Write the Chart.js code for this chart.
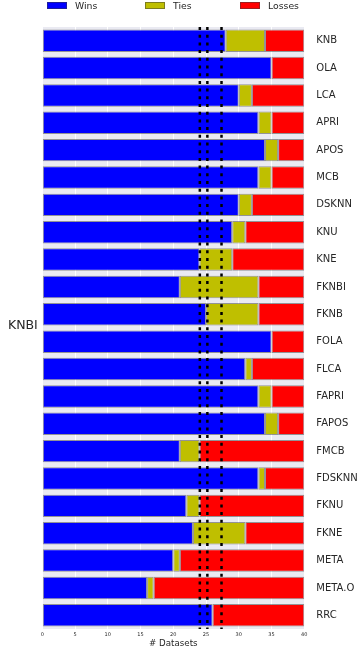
<!DOCTYPE html>
<html>
<head>
<meta charset="utf-8">
<script src="https://cdn.jsdelivr.net/npm/chart.js@4"></script>
<style>
  body { margin: 0; background: #fff; font-family: "DejaVu Sans", sans-serif; }
  #wrap { position: relative; width: 360px; height: 664px; }
  #legend { position: absolute; top: 0; left: 0; width: 360px; height: 14px; }
  .item { position: absolute; top: 0; font-size: 9.3px; color: #262626; line-height: 11px; }
  .box { position: absolute; top: 2px; width: 20px; height: 7px; box-sizing: border-box; border: 1px solid rgba(60,60,60,0.5); }
  .lbl { position: absolute; top: 0; white-space: nowrap; }
</style>
</head>
<body>
<div id="wrap">
  <canvas id="resultsChart" width="360" height="664"></canvas>
  <div id="legend"></div>
</div>
<script>
var categories = ['KNB', 'OLA', 'LCA', 'APRI', 'APOS', 'MCB', 'DSKNN', 'KNU', 'KNE', 'FKNBI', 'FKNB',
    'FOLA', 'FLCA', 'FAPRI', 'FAPOS', 'FMCB', 'FDSKNN', 'FKNU', 'FKNE', 'META', 'META.O', 'RRC'];
var wins   = [28, 35, 30, 33, 34, 33, 30, 29, 24, 21, 25, 35, 31, 33, 34, 21, 33, 22, 23, 20, 16, 26];
var ties   = [6, 0, 2, 2, 2, 2, 2, 2, 5, 12, 8, 0, 1, 2, 2, 3, 1, 2, 8, 1, 1, 0];
var losses = [6, 5, 8, 5, 4, 5, 8, 9, 11, 7, 7, 5, 8, 5, 4, 16, 6, 16, 9, 19, 23, 14];
// significance thresholds (dotted lines)
var thresholds = [24.05, 25.2, 27.36];
var seriesNames = ['Wins', 'Ties', 'Losses'];
var seriesColors = ['#0000ff', '#bfbf00', '#ff0000'];
var legendX = [47, 145, 240];

document.addEventListener('DOMContentLoaded', function () {
    // Legend
    var legend = document.getElementById('legend');
    seriesNames.forEach(function (name, i) {
        var item = document.createElement('div');
        item.className = 'item';
        item.style.left = legendX[i] + 'px';
        item.innerHTML = '<div class="box" style="left:0;background:' + seriesColors[i] + '"></div>' +
            '<div class="lbl" style="left:28px">' + name + '</div>';
        legend.appendChild(item);
    });

    var bgPlugin = {
        id: 'bg',
        beforeDraw: function (chart) {
            var a = chart.chartArea, ctx = chart.ctx;
            ctx.save();
            ctx.fillStyle = '#eaeaf2';
            ctx.fillRect(a.left, a.top, a.right - a.left, a.bottom - a.top);
            ctx.restore();
        }
    };
    var linesPlugin = {
        id: 'thresholds',
        afterDatasetsDraw: function (chart) {
            var a = chart.chartArea, ctx = chart.ctx, xs = chart.scales.x;
            ctx.save();
            ctx.strokeStyle = '#000';
            ctx.lineWidth = 2.5;
            ctx.setLineDash([3, 4.7]);
            thresholds.forEach(function (v) {
                var x = xs.getPixelForValue(v);
                ctx.beginPath();
                ctx.moveTo(x, a.top);
                ctx.lineTo(x, a.bottom);
                ctx.stroke();
            });
            ctx.restore();
        },
        afterDraw: function (chart) {
            var a = chart.chartArea, ctx = chart.ctx;
            ctx.save();
            ctx.font = '12.5px "DejaVu Sans"';
            ctx.fillStyle = '#262626';
            ctx.textAlign = 'left';
            ctx.textBaseline = 'middle';
            ctx.fillText('KNBI', 8, (a.top + a.bottom) / 2 - 2);
            ctx.restore();
        }
    };

    var ctx = document.getElementById('resultsChart').getContext('2d');
    new Chart(ctx, {
        type: 'bar',
        data: {
            labels: categories,
            datasets: [wins, ties, losses].map(function (vals, i) {
                return {
                    label: seriesNames[i],
                    data: vals,
                    backgroundColor: seriesColors[i],
                    borderColor: 'rgba(60,60,60,0.5)',
                    borderWidth: 1,
                    borderSkipped: false,
                    barPercentage: 0.82,
                    categoryPercentage: 1
                };
            })
        },
        options: {
            indexAxis: 'y',
            responsive: false,
            animation: false,
            devicePixelRatio: 1,
            layout: {padding: {top: 27, left: 42.3, right: 0, bottom: 0}},
            plugins: {legend: {display: false}, tooltip: {enabled: false}},
            scales: {
                x: {
                    stacked: true,
                    min: 0,
                    max: 40,
                    ticks: {stepSize: 5, color: '#262626', font: {family: 'DejaVu Sans', size: 5}, padding: 3},
                    grid: {color: '#ffffff', lineWidth: 1, drawTicks: false},
                    border: {display: false},
                    title: {display: true, text: '# Datasets', color: '#262626',
                        font: {family: 'DejaVu Sans', size: 8.7}, padding: {top: 2, bottom: 15}},
                    afterFit: function (s) { s.height = 35; }
                },
                y: {
                    stacked: true,
                    position: 'right',
                    grid: {display: false},
                    border: {display: false},
                    ticks: {color: '#262626', font: {family: 'DejaVu Sans', size: 10}, padding: 4},
                    afterFit: function (s) { s.width = 55.7; }
                }
            }
        },
        plugins: [bgPlugin, linesPlugin]
    });
});
</script>
</body>
</html>
